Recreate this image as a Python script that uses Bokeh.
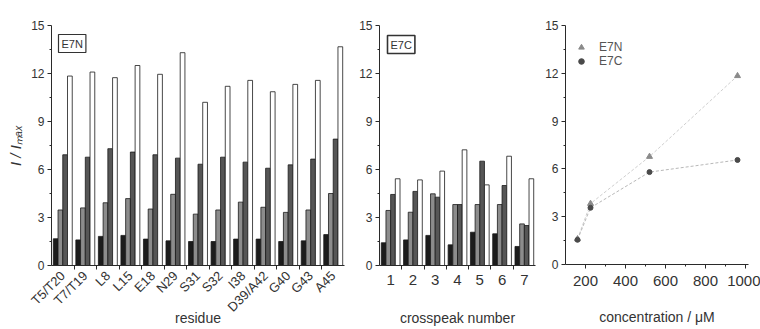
import math
from bokeh.plotting import figure
from bokeh.layouts import row
from bokeh.models import (Range1d, FixedTicker, Label,
                          Legend, LegendItem, ColumnDataSource)
from bokeh.transform import dodge
from bokeh.embed import file_html
from bokeh.resources import INLINE

# ---------------- data ----------------
residues = ["T5/T20", "T7/T19", "L8", "L15", "E18", "N29", "S31", "S32",
            "I38", "D39/A42", "G40", "G43", "A45"]
e7n_c1 = [1.67, 1.60, 1.82, 1.88, 1.65, 1.54, 1.50, 1.50, 1.65, 1.65, 1.50, 1.54, 1.93]
e7n_c2 = [3.47, 3.60, 3.92, 4.18, 3.53, 4.45, 3.21, 3.47, 3.96, 3.64, 3.32, 3.47, 4.50]
e7n_c3 = [6.92, 6.77, 7.30, 7.09, 6.92, 6.71, 6.33, 6.77, 6.46, 6.08, 6.29, 6.65, 7.90]
e7n_c4 = [11.84, 12.09, 11.74, 12.50, 11.95, 13.30, 10.20, 11.20, 11.57, 10.86, 11.32, 11.57, 13.67]

crosspeaks = ["1", "2", "3", "4", "5", "6", "7"]
e7c_c1 = [1.42, 1.60, 1.88, 1.29, 2.08, 1.98, 1.19]
e7c_c2 = [3.44, 3.33, 4.48, 3.81, 3.81, 3.81, 2.60]
e7c_c3 = [4.44, 4.63, 4.27, 3.81, 6.52, 5.00, 2.50]
e7c_c4 = [5.42, 5.35, 5.90, 7.23, 5.04, 6.83, 5.42]

concentration = [160, 225, 520, 960]
e7n_ratio = [1.60, 3.82, 6.77, 11.84]
e7c_ratio = [1.55, 3.56, 5.80, 6.56]

y_ticks = [0, 3, 6, 9, 12, 15]
conc_ticks = [200, 400, 600, 800, 1000]

# ---------------- style ----------------
FONT = "Liberation Sans"
AXC = "#2a2a2a"
TXT = "#333333"
FILLS = ["#1c1c1c", "#8c8c8c", "#565656", "#ffffff"]
OFFS = [-0.315, -0.105, 0.105, 0.315]
BW = 0.21


def base_fig(**kw):
    p = figure(output_backend="svg", toolbar_location=None, **kw)
    p.outline_line_color = None
    p.xgrid.visible = False
    p.ygrid.visible = False
    p.background_fill_color = "white"
    p.border_fill_color = "white"
    p.y_range = Range1d(0, 15)
    yax = p.yaxis[0]
    yax.ticker = FixedTicker(ticks=y_ticks, minor_ticks=[1.5, 4.5, 7.5, 10.5, 13.5])
    yax.axis_line_color = AXC
    yax.major_tick_line_color = AXC
    yax.minor_tick_line_color = AXC
    yax.major_tick_out = 4
    yax.major_tick_in = 0
    yax.minor_tick_out = 2
    yax.minor_tick_in = 0
    yax.major_label_standoff = 3
    yax.major_label_text_font = FONT
    yax.major_label_text_font_size = "12px"
    yax.major_label_text_color = TXT
    xax = p.xaxis[0]
    xax.axis_line_color = AXC
    xax.major_tick_line_color = AXC
    xax.minor_tick_line_color = AXC
    xax.major_label_text_font = FONT
    xax.major_label_text_color = TXT
    xax.axis_label_text_font = FONT
    xax.axis_label_text_font_style = "normal"
    xax.axis_label_text_color = TXT
    xax.axis_label_text_font_size = "14px"
    return p


def bar_panel(p, names, series):
    xs = list(range(1, len(names) + 1))
    src = ColumnDataSource(dict(x=xs, c1=series[0], c2=series[1], c3=series[2], c4=series[3]))
    for k, col in enumerate(["c1", "c2", "c3", "c4"]):
        p.vbar(x=dodge("x", OFFS[k], range=p.x_range), top=col, width=BW, bottom=0,
               source=src, fill_color=FILLS[k], line_color="#1a1a1a", line_width=0.8)
    xax = p.xaxis[0]
    xax.ticker = FixedTicker(ticks=xs, minor_ticks=[x + 0.5 for x in xs[:-1]])
    xax.major_label_overrides = {x: n for x, n in zip(xs, names)}
    xax.major_tick_out = 0
    xax.major_tick_in = 0
    xax.minor_tick_out = 4
    xax.minor_tick_in = 0


# ---------------- panel 1 (E7N) ----------------
p1 = base_fig(width=356, height=329, frame_width=293, frame_height=240,
              min_border_left=51, min_border_right=12, min_border_top=21, min_border_bottom=68)
p1.x_range = Range1d(0.5, 13.5)
bar_panel(p1, residues, [e7n_c1, e7n_c2, e7n_c3, e7n_c4])
x1 = p1.xaxis[0]
x1.major_label_orientation = math.pi / 4
x1.major_label_text_font_size = "13px"
x1.major_label_standoff = 4
x1.axis_label = "residue"
x1.axis_label_standoff = -13
y1 = p1.yaxis[0]
y1.axis_label = "I / I\u2098\u2090\u2093"
y1.axis_label_text_font = FONT
y1.axis_label_text_font_style = "italic"
y1.axis_label_text_font_size = "15px"
y1.axis_label_text_color = TXT
y1.axis_label_standoff = 4

p1.add_layout(Label(x=7, y=231, x_units="screen", y_units="screen", text="E7N",
                    text_baseline="top", text_font=FONT, text_font_size="11px",
                    text_color=TXT, border_line_color="#333333", border_line_width=1.2,
                    background_fill_color="white", padding=3))

# ---------------- panel 2 (E7C) ----------------
p2 = base_fig(width=184, height=329, frame_width=156, frame_height=240,
              min_border_left=23, min_border_right=5, min_border_top=21, min_border_bottom=68)
p2.x_range = Range1d(0.5, 7.5)
bar_panel(p2, crosspeaks, [e7c_c1, e7c_c2, e7c_c3, e7c_c4])
p2.xaxis[0].major_label_text_font_size = "15px"
p2.xaxis[0].major_label_standoff = 5
p2.xaxis[0].axis_label = "crosspeak number"
p2.xaxis[0].axis_label_standoff = 22
p2.add_layout(Label(x=8, y=230, x_units="screen", y_units="screen", text="E7C",
                    text_baseline="top", text_font=FONT, text_font_size="11px",
                    text_color=TXT, border_line_color="#333333", border_line_width=1.6,
                    background_fill_color="white", padding=3))

# ---------------- panel 3 (titration) ----------------
p3 = base_fig(width=220, height=329, frame_width=183, frame_height=239,
              min_border_left=25, min_border_right=12, min_border_top=25, min_border_bottom=65)
p3.x_range = Range1d(100, 1015)
xax3 = p3.xaxis[0]
xax3.ticker = FixedTicker(ticks=conc_ticks, minor_ticks=[300, 500, 700, 900])
xax3.major_tick_out = 4
xax3.major_tick_in = 0
xax3.minor_tick_out = 2
xax3.minor_tick_in = 0
xax3.major_label_text_font_size = "15px"
xax3.major_label_standoff = 7
xax3.axis_label = "concentration / \u03bcM"
xax3.axis_label_standoff = 20

src3 = ColumnDataSource(dict(c=concentration, n=e7n_ratio, cc=e7c_ratio))
p3.line("c", "n", source=src3, line_color="#cfcfcf", line_width=1, line_dash="3 2")
p3.line("c", "cc", source=src3, line_color="#b8b8b8", line_width=1, line_dash="3 2")
rn = p3.scatter("c", "n", source=src3, marker="triangle", size=6,
                fill_color="#8a8a8a", line_color="#8a8a8a")
rc = p3.scatter("c", "cc", source=src3, marker="circle", size=5,
                fill_color="#4a4a4a", line_color="#4a4a4a")
leg = Legend(items=[LegendItem(label="E7N", renderers=[rn]),
                    LegendItem(label="E7C", renderers=[rc])],
             location=(8, 196), border_line_color=None, background_fill_alpha=0,
             padding=6, margin=0, spacing=0, glyph_width=16, glyph_height=14,
             label_standoff=10, label_text_font=FONT, label_text_font_size="12px",
             label_text_color="#555555", label_height=14)
p3.add_layout(leg)

layout = row(p1, p2, p3, spacing=0)
open("out.html", "w").write(file_html(layout, INLINE))
